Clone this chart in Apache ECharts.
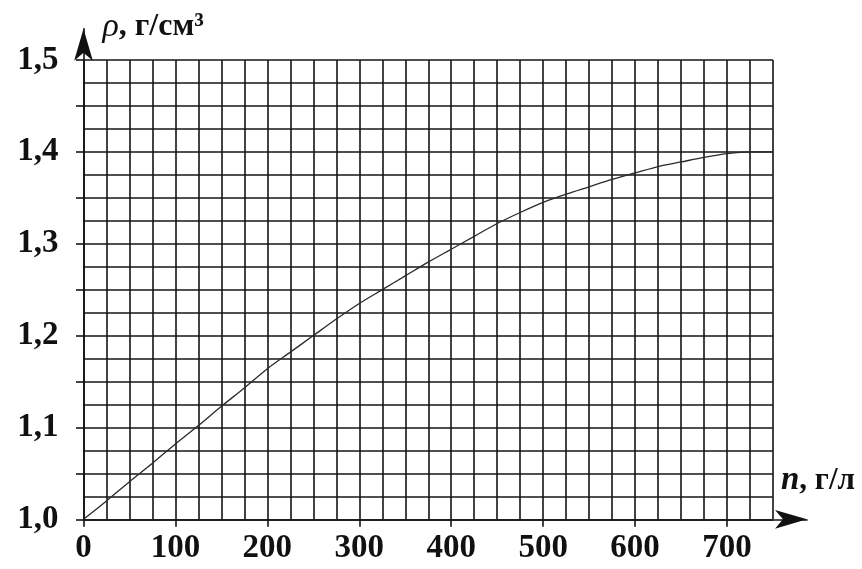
<!DOCTYPE html>
<html>
<head>
<meta charset="utf-8">
<script src="https://cdn.jsdelivr.net/npm/echarts@6/dist/echarts.min.js"></script>
<style>html,body{margin:0;padding:0;background:#fff}#c{width:862px;height:569px}</style>
</head>
<body>
<div id="c"></div>
<script>
// Data
const nValues   = [0, 25, 50, 75, 100, 125, 150, 175, 200, 225, 250, 275, 300, 325, 350, 375, 400, 425, 450, 475, 500, 525, 550, 575, 600, 625, 650, 675, 700, 725, 750];
const rhoValues = [1.0, 1.020, 1.041, 1.061, 1.082, 1.102, 1.123, 1.143, 1.164, 1.182, 1.200, 1.218, 1.235, 1.250, 1.265, 1.280, 1.294, 1.308, 1.322, 1.334, 1.345, 1.354, 1.362, 1.370, 1.377, 1.384, 1.389, 1.394, 1.398, 1.400, 1.400];
const xTickLabels = [0, 100, 200, 300, 400, 500, 600, 700];
const yTickLabels = [1.0, 1.1, 1.2, 1.3, 1.4, 1.5];
const yTicks = [1.0, 1.05, 1.1, 1.15, 1.2, 1.25, 1.3, 1.35, 1.4, 1.45, 1.5];
const xName = 'n';
const yName = 'ρ';
const unitX = ', г/л';
const unitY = ', г/см³';

const curve = nValues.map((n, i) => [n, rhoValues[i]]);
const FONT = 'Liberation Serif';
const gridColor = '#141414';
const labelStyle = {color: '#111', fontFamily: FONT, fontWeight: 'bold', fontSize: 33};

const chart = echarts.init(document.getElementById('c'), null, {renderer: 'canvas'});
chart.setOption({
  animation: false,
  backgroundColor: '#fff',
  grid: [
    {left: 83.5, right: 89, top: 60, bottom: 49.7, outerBoundsMode: 'none'},
    {left: 83.5, right: 55, top: 28.7, bottom: 49.7, outerBoundsMode: 'none'}
  ],
  xAxis: [
    { // fine grid lines
      type: 'value', gridIndex: 0, position: 'bottom', min: 0, max: 750, interval: 25,
      axisLine: {show: false}, axisTick: {show: false}, axisLabel: {show: false},
      splitLine: {show: true, lineStyle: {color: gridColor, width: 1.6}}
    },
    { // arrow axis + name
      type: 'value', gridIndex: 1, position: 'bottom', min: 0, max: 1,
      axisLine: {show: true, symbol: ['none', 'arrow'], symbolSize: [14, 32],
                 lineStyle: {color: '#111', width: 1.6}},
      axisTick: {show: false}, axisLabel: {show: false}, splitLine: {show: false},
      name: '{i|' + xName + '}{r|' + unitX + '}',
      nameLocation: 'end', nameGap: -26,
      nameTextStyle: {
        align: 'left', verticalAlign: 'bottom', padding: [0, 0, 22, 0],
        rich: {
          i: {fontFamily: FONT, fontStyle: 'italic', fontWeight: 'bold', fontSize: 33, color: '#111'},
          r: {fontFamily: FONT, fontWeight: 'bold', fontSize: 31, color: '#111'}
        }
      }
    },
    { // ticks and labels
      type: 'value', gridIndex: 0, position: 'bottom', offset: 0, min: 0, max: 750, interval: 100,
      axisLine: {show: false},
      axisTick: {show: true, customValues: xTickLabels, length: 7.5,
                 lineStyle: {color: gridColor, width: 1.6}},
      axisLabel: Object.assign({customValues: xTickLabels, margin: 13}, labelStyle),
      splitLine: {show: false}
    }
  ],
  yAxis: [
    {
      type: 'value', gridIndex: 0, position: 'left', min: 1.0, max: 1.5, interval: 0.025,
      axisLine: {show: false}, axisTick: {show: false}, axisLabel: {show: false},
      splitLine: {show: true, lineStyle: {color: gridColor, width: 1.6}}
    },
    {
      type: 'value', gridIndex: 1, position: 'left', min: 0, max: 1,
      axisLine: {show: true, symbol: ['none', 'arrow'], symbolSize: [14, 32],
                 lineStyle: {color: '#111', width: 1.6}},
      axisTick: {show: false}, axisLabel: {show: false}, splitLine: {show: false},
      name: '{i|' + yName + '}{r|' + unitY + '}',
      nameLocation: 'end', nameGap: -15,
      nameTextStyle: {
        align: 'left', verticalAlign: 'bottom', padding: [0, 0, 0, 19],
        rich: {
          i: {fontFamily: FONT, fontStyle: 'italic', fontSize: 34, color: '#111'},
          r: {fontFamily: FONT, fontWeight: 'bold', fontSize: 32, color: '#111'}
        }
      }
    },
    {
      type: 'value', gridIndex: 0, position: 'left', offset: 0, min: 1.0, max: 1.5, interval: 0.05,
      axisLine: {show: false},
      axisTick: {show: true, customValues: yTicks, length: 7.5,
                 lineStyle: {color: gridColor, width: 1.6}},
      axisLabel: Object.assign({customValues: yTickLabels, margin: 25,
                  formatter: v => v.toFixed(1).replace('.', ',')}, labelStyle),
      splitLine: {show: false}
    }
  ],
  series: [{
    type: 'line', xAxisIndex: 0, yAxisIndex: 0,
    data: curve, smooth: 0.3, showSymbol: false,
    lineStyle: {color: '#2a2a2a', width: 1.3}
  }]
});
</script>
</body>
</html>
